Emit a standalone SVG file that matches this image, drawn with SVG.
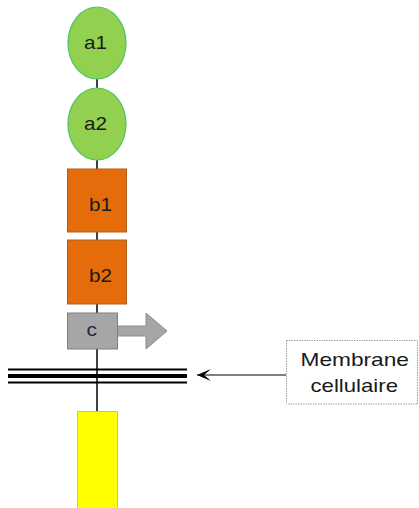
<svg xmlns="http://www.w3.org/2000/svg" width="419" height="508" viewBox="0 0 419 508">
<style>
.lbl{font-family:"Liberation Sans",Arial,sans-serif;font-size:19px;fill:#1a1a1a}
.ell{fill:#92D050;stroke:#4CC464;stroke-width:1.2}
.box{fill:#E46C0A;stroke:#B0601A;stroke-width:1}
.conn{stroke:#000;stroke-width:1.5;fill:none}
</style>
<defs>
<marker id="open" markerWidth="16" markerHeight="14" refX="15" refY="7" orient="auto" markerUnits="userSpaceOnUse">
<path d="M1,1 L15,7 L1,13 L8,7 Z" fill="#000"/>
</marker>
</defs>
<rect width="419" height="508" fill="#fff"/>
<g id="connectors">
<line class="conn" x1="97" y1="79" x2="97" y2="88"/>
<line class="conn" x1="97" y1="160" x2="97" y2="169"/>
<line class="conn" x1="97" y1="232" x2="97" y2="240"/>
<line class="conn" x1="97" y1="304" x2="97" y2="313"/>
<line class="conn" x1="97" y1="349" x2="97" y2="411"/>
<line x1="286" y1="375" x2="197" y2="375" stroke="#000" stroke-width="1.2" marker-end="url(#open)"/>
</g>
<g id="membrane">
<line x1="8" y1="369.5" x2="187" y2="369.5" stroke="#000" stroke-width="2"/>
<line x1="8" y1="376" x2="187" y2="376" stroke="#000" stroke-width="4"/>
<line x1="8" y1="382.5" x2="187" y2="382.5" stroke="#000" stroke-width="2"/>
</g>
<g id="a1">
<ellipse class="ell" cx="97" cy="43" rx="29" ry="36"/>
<text class="lbl" x="84" y="49" textLength="23" lengthAdjust="spacingAndGlyphs">a1</text>
</g>
<g id="a2">
<ellipse class="ell" cx="97" cy="124" rx="29" ry="36"/>
<text class="lbl" x="84" y="130" textLength="23" lengthAdjust="spacingAndGlyphs">a2</text>
</g>
<g id="b1">
<rect class="box" x="67.5" y="169" width="59" height="63"/>
<text class="lbl" x="89" y="210.5" font-size="21" textLength="23" lengthAdjust="spacingAndGlyphs">b1</text>
</g>
<g id="b2">
<rect class="box" x="67.5" y="240" width="59" height="64"/>
<text class="lbl" x="89" y="282" font-size="21" textLength="23" lengthAdjust="spacingAndGlyphs">b2</text>
</g>
<g id="c">
<path d="M117,326 H146 V313 L167,331 L146,349 V336 H117 Z" fill="#A6A6A6" stroke="#8C8C8C" stroke-width="1"/>
<rect x="67.5" y="313" width="50" height="36" fill="#A6A6A6" stroke="#808080" stroke-width="1"/>
<text class="lbl" x="86.5" y="336" font-size="19" textLength="10.5" lengthAdjust="spacingAndGlyphs" style="fill:#1F2A44">c</text>
</g>
<g id="yellow">
<rect x="77.5" y="411.5" width="40" height="100" fill="#FFFF00" stroke="#FFC000" stroke-width="1"/>
</g>
<g id="label">
<rect x="286.5" y="340.5" width="131" height="63.5" fill="#fff" stroke="#A0A0A0" stroke-width="1" stroke-dasharray="1.5,1"/>
<text class="lbl" x="300.5" y="365.5" font-size="18.5" textLength="108.5" lengthAdjust="spacingAndGlyphs">Membrane</text>
<text class="lbl" x="310.5" y="391.5" font-size="18.5" textLength="87.5" lengthAdjust="spacingAndGlyphs">cellulaire</text>
</g>
</svg>
